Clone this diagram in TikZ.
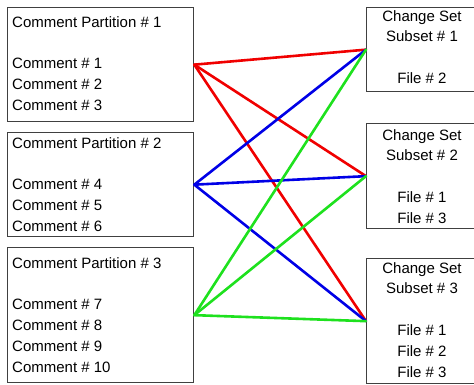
\documentclass[tikz,border=0pt]{standalone}
\usepackage{fontspec}
\setmainfont{Liberation Sans}
\definecolor{boxline}{RGB}{64,64,64}
\definecolor{linkred}{RGB}{240,0,0}
\definecolor{linkblue}{RGB}{0,0,230}
\definecolor{linkgreen}{RGB}{30,225,30}
\begin{document}
\begin{tikzpicture}[x=1pt,y=-1pt,
  box/.style={draw=boxline,line width=1.3pt,anchor=north west,inner sep=0pt,minimum width=#1},
  box/.default=186,
  txt/.style={inner sep=0pt,font=\fontsize{15}{20.8}\selectfont},
  lefttxt/.style={txt,align=left,anchor=north west},
  righttxt/.style={txt,align=center,anchor=north},
  link/.style={line width=2.6pt,line cap=round,line join=round}]
\useasboundingbox (0,0) rectangle (474,384);
\begin{scope}
\clip (0,0) rectangle (474,384);
% comment partitions
\node[box,minimum height=114] (p1) at (7,7) {};
\node[box,minimum height=104] (p2) at (7,132) {};
\node[box,minimum height=135] (p3) at (7,247) {};
% change set subsets
\node[box=112,minimum height=84] (c1) at (366,7) {};
\node[box=112,minimum height=105] (c2) at (366,123) {};
\node[box=112,minimum height=125] (c3) at (366,258) {};
\end{scope}
\node[lefttxt] (p1t) at (12,16) {Comment Partition \# 1\\[20.8pt]Comment \# 1\\Comment \# 2\\Comment \# 3};
\node[lefttxt] (p2t) at (12,137) {Comment Partition \# 2\\[20.8pt]Comment \# 4\\Comment \# 5\\Comment \# 6};
\node[lefttxt] (p3t) at (12,257) {Comment Partition \# 3\\[20.8pt]Comment \# 7\\Comment \# 8\\Comment \# 9\\Comment \# 10};
\node[righttxt] (c1t) at (422,10) {Change Set\\Subset \# 1\\[20.8pt]File \# 2};
\node[righttxt] (c2t) at (422,129) {Change Set\\Subset \# 2\\[20.8pt]File \# 1\\File \# 3};
\node[righttxt] (c3t) at (422,262) {Change Set\\Subset \# 3\\[20.8pt]File \# 1\\File \# 2\\File \# 3};
% links
\foreach \c in {c1,c2,c3}{
  \draw[link,linkred] (p1.east) -- (\c.west);
}
\foreach \c in {c1,c2,c3}{
  \draw[link,linkblue] (p2.east) -- (\c.west);
}
\foreach \c in {c1,c2,c3}{
  \draw[link,linkgreen] (p3.east) -- (\c.west);
}
\end{tikzpicture}
\end{document}
